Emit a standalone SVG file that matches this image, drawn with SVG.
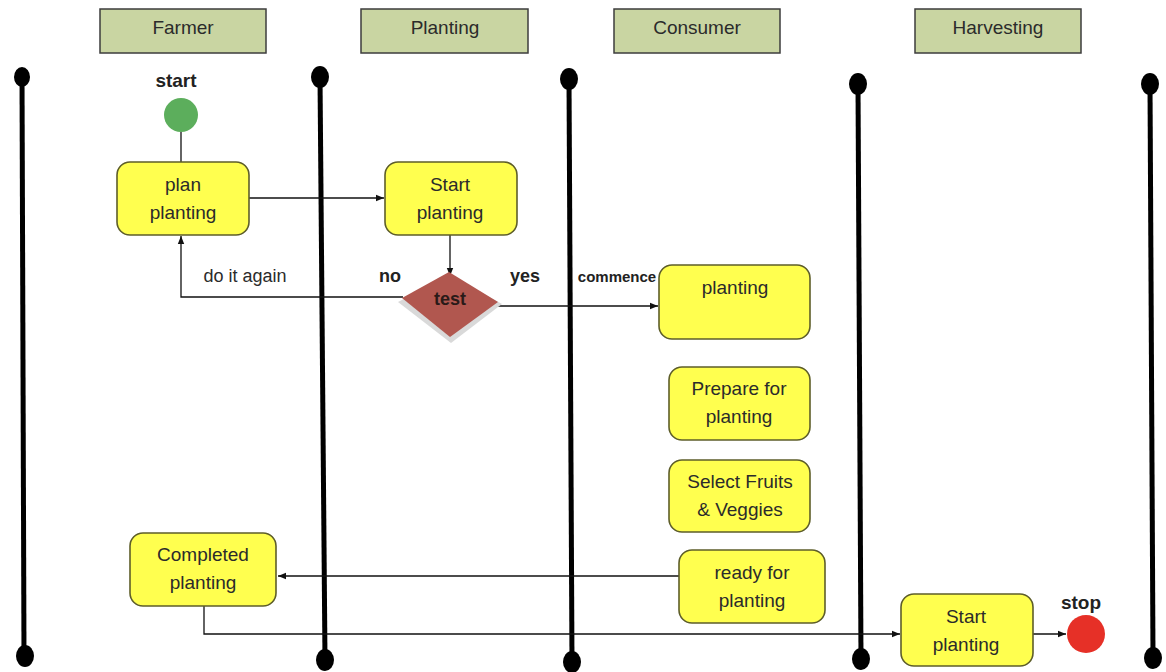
<svg xmlns="http://www.w3.org/2000/svg" width="1166" height="672" viewBox="0 0 1166 672">
  <defs>
    <marker id="arrow" viewBox="0 0 10 10" refX="10" refY="5" markerWidth="8" markerHeight="8" orient="auto" markerUnits="userSpaceOnUse">
      <path d="M0,1 L10,5 L0,9 z" fill="#111"/>
    </marker>
    <style>
      text { font-family: "Liberation Sans", Arial, sans-serif; fill: #2b2b2b; text-anchor: middle; }
      .lane { fill: #c9d5a2; stroke: #3d3d3d; stroke-width: 1.5; }
      .lane-label { font-size: 19px; }
      .life { stroke: #000; stroke-width: 5; fill: none; }
      .dot { fill: #000; }
      .act { fill: #ffff4f; stroke: #5e5e2a; stroke-width: 1.6; }
      .act-label { font-size: 19px; }
      .tag { font-size: 19px; font-weight: bold; fill: #222; }
      .conn { stroke: #111; stroke-width: 1.3; fill: none; }
    </style>
  </defs>
  <rect width="1166" height="672" fill="#fff"/>

  <!-- swimlane headers -->
  <g id="lane-farmer"><rect class="lane" x="100" y="9" width="166" height="44"/><text class="lane-label" x="183" y="34">Farmer</text></g>
  <g id="lane-planting"><rect class="lane" x="361" y="9" width="167" height="44"/><text class="lane-label" x="445" y="34">Planting</text></g>
  <g id="lane-consumer"><rect class="lane" x="614" y="9" width="166" height="44"/><text class="lane-label" x="697" y="34">Consumer</text></g>
  <g id="lane-harvesting"><rect class="lane" x="915" y="9" width="166" height="44"/><text class="lane-label" x="998" y="34">Harvesting</text></g>

  <!-- lane dividers -->
  <g id="dividers">
    <line class="life" x1="22" y1="77" x2="24" y2="656"/>
    <ellipse class="dot" cx="22" cy="77" rx="8" ry="10"/>
    <ellipse class="dot" cx="25" cy="656" rx="9" ry="11"/>
    <line class="life" x1="320" y1="77" x2="325" y2="660"/>
    <ellipse class="dot" cx="320" cy="77" rx="9" ry="11"/>
    <ellipse class="dot" cx="325" cy="660" rx="9" ry="11"/>
    <line class="life" x1="569" y1="79" x2="572" y2="662"/>
    <ellipse class="dot" cx="569" cy="79" rx="9" ry="11"/>
    <ellipse class="dot" cx="572" cy="662" rx="9" ry="11"/>
    <line class="life" x1="858" y1="84" x2="861" y2="659"/>
    <ellipse class="dot" cx="858" cy="84" rx="9" ry="11"/>
    <ellipse class="dot" cx="861" cy="659" rx="9" ry="11"/>
    <line class="life" x1="1150" y1="84" x2="1153" y2="658"/>
    <ellipse class="dot" cx="1150" cy="84" rx="9" ry="11"/>
    <ellipse class="dot" cx="1153" cy="658" rx="9" ry="11"/>
  </g>

  <!-- connectors -->
  <g id="connectors">
    <line class="conn" x1="181" y1="132" x2="181" y2="162"/>
    <line class="conn" x1="249" y1="198" x2="384" y2="198" marker-end="url(#arrow)"/>
    <line class="conn" x1="450" y1="235" x2="450" y2="276" marker-end="url(#arrow)"/>
    <polyline class="conn" points="403,297 181,297 181,236" marker-end="url(#arrow)"/>
    <line class="conn" x1="498" y1="306" x2="658" y2="306" marker-end="url(#arrow)"/>
    <line class="conn" x1="679" y1="576" x2="278" y2="576" marker-end="url(#arrow)"/>
    <polyline class="conn" points="204,606 204,634 900,634" marker-end="url(#arrow)"/>
    <line class="conn" x1="1033" y1="634" x2="1066" y2="634" marker-end="url(#arrow)"/>
  </g>

  <!-- connector labels -->
  <text x="245" y="282" style="font-size:18px">do it again</text>
  <text class="tag" x="390" y="282" style="font-size:18px">no</text>
  <text class="tag" x="525" y="282" style="font-size:18px">yes</text>
  <text class="tag" x="617" y="282" style="font-size:15px">commence</text>

  <!-- start -->
  <g id="start">
    <text class="tag" x="176" y="87">start</text>
    <circle cx="181" cy="115" r="17" fill="#5cae5c"/>
  </g>

  <g id="plan-planting">
    <rect class="act" x="117" y="162" width="132" height="73" rx="13"/>
    <text class="act-label" x="183" y="191">plan</text>
    <text class="act-label" x="183" y="219">planting</text>
  </g>

  <g id="start-planting-1">
    <rect class="act" x="385" y="162" width="132" height="73" rx="13"/>
    <text class="act-label" x="450" y="191">Start</text>
    <text class="act-label" x="450" y="219">planting</text>
  </g>

  <g id="test">
    <polygon points="450,275 502,304 451,343 398,302" fill="#d9d9d9"/>
    <polygon points="449,272 498,302 450,337 402,298" fill="#b1574f"/>
    <text x="450" y="305" style="font-size:18px;font-weight:bold;fill:#2a1a18">test</text>
  </g>

  <g id="planting">
    <rect class="act" x="659" y="265" width="151" height="74" rx="13"/>
    <text class="act-label" x="735" y="294">planting</text>
  </g>

  <g id="prepare">
    <rect class="act" x="669" y="367" width="141" height="73" rx="13"/>
    <text class="act-label" x="739" y="395">Prepare for</text>
    <text class="act-label" x="739" y="423">planting</text>
  </g>

  <g id="select">
    <rect class="act" x="669" y="460" width="141" height="72" rx="13"/>
    <text class="act-label" x="740" y="488">Select Fruits</text>
    <text class="act-label" x="740" y="516">&amp; Veggies</text>
  </g>

  <g id="ready">
    <rect class="act" x="679" y="550" width="146" height="73" rx="13"/>
    <text class="act-label" x="752" y="579">ready for</text>
    <text class="act-label" x="752" y="607">planting</text>
  </g>

  <g id="completed">
    <rect class="act" x="130" y="533" width="146" height="73" rx="13"/>
    <text class="act-label" x="203" y="561">Completed</text>
    <text class="act-label" x="203" y="589">planting</text>
  </g>

  <g id="start-planting-2">
    <rect class="act" x="901" y="594" width="132" height="72" rx="13"/>
    <text class="act-label" x="966" y="623">Start</text>
    <text class="act-label" x="966" y="651">planting</text>
  </g>

  <g id="stop">
    <text class="tag" x="1081" y="609">stop</text>
    <circle cx="1086" cy="634" r="19" fill="#e63027"/>
  </g>
</svg>
